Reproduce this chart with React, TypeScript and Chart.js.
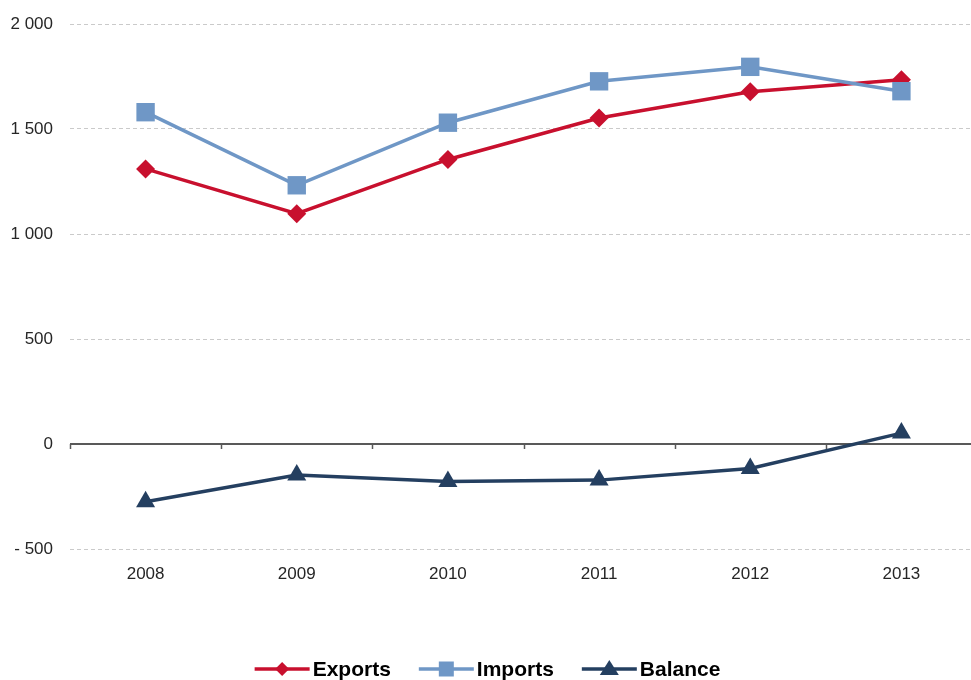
import React, { useEffect, useRef } from "react";
import { Chart, registerables } from "chart.js";

Chart.register(...registerables);

const years = ["2008", "2009", "2010", "2011", "2012", "2013"];
const exportsValues = [1310, 1097, 1355, 1552, 1677, 1735];
const importsValues = [1580, 1232, 1530, 1727, 1796, 1680];
const balanceValues = [-275, -148, -178, -172, -117, 52];
const yTickValues = [-500, 0, 500, 1000, 1500, 2000];
const yTickLabels = ["- 500", "0", "500", "1 000", "1 500", "2 000"];
const seriesNames = ["Exports", "Imports", "Balance"];

const RED = "#C8102E";
const BLUE = "#6F97C6";
const NAVY = "#243F60";
const TICK_FONT = "'Liberation Sans Narrow', 'Arial Narrow', 'Liberation Sans', Arial, sans-serif";
const LEGEND_FONT = "'Liberation Sans', Arial, sans-serif";

const zeroAxisPlugin = {
  id: "zeroAxis",
  beforeDatasetsDraw(chart: any) {
    const { ctx, chartArea, scales } = chart;
    const y = scales.y.getPixelForValue(0);
    const xs = scales.x;
    ctx.save();
    ctx.strokeStyle = "#595959";
    ctx.lineWidth = 2;
    ctx.beginPath();
    ctx.moveTo(chartArea.left, y);
    ctx.lineTo(chartArea.right, y);
    ctx.stroke();
    ctx.lineWidth = 1.5;
    const n = years.length;
    for (let i = 0; i <= n; i++) {
      let bx: number;
      if (i === 0) bx = chartArea.left;
      else if (i === n) bx = chartArea.right;
      else bx = (xs.getPixelForValue(i - 1) + xs.getPixelForValue(i)) / 2;
      ctx.beginPath();
      ctx.moveTo(Math.round(bx) + 0.5, y);
      ctx.lineTo(Math.round(bx) + 0.5, y + 5);
      ctx.stroke();
    }
    ctx.restore();
  },
};

function drawMarker(ctx: CanvasRenderingContext2D, kind: string, x: number, y: number, r: number, color: string) {
  ctx.fillStyle = color;
  ctx.beginPath();
  if (kind === "diamond") {
    ctx.moveTo(x, y - r);
    ctx.lineTo(x + r, y);
    ctx.lineTo(x, y + r);
    ctx.lineTo(x - r, y);
  } else if (kind === "square") {
    ctx.rect(x - r, y - r, 2 * r, 2 * r);
  } else {
    const h = r * 1.6;
    ctx.moveTo(x, y - h * 0.6);
    ctx.lineTo(x + r, y + h * 0.4);
    ctx.lineTo(x - r, y + h * 0.4);
  }
  ctx.closePath();
  ctx.fill();
}

const legendPlugin = {
  id: "customLegend",
  afterDraw(chart: any) {
    const { ctx } = chart;
    const items = [
      { name: seriesNames[0], color: RED, kind: "diamond", r: 7 },
      { name: seriesNames[1], color: BLUE, kind: "square", r: 7.5 },
      { name: seriesNames[2], color: NAVY, kind: "triangle", r: 9.5 },
    ];
    const lineLen = 55;
    const gap = 3;
    const spacing = 28;
    ctx.save();
    ctx.font = "bold 21px " + LEGEND_FONT;
    const widths = items.map((it) => ctx.measureText(it.name).width);
    let total = 0;
    items.forEach((it, i) => {
      total += lineLen + gap + widths[i];
      if (i < items.length - 1) total += spacing;
    });
    const cy = 669;
    let x = 487.5 - total / 2;
    items.forEach((it, i) => {
      ctx.strokeStyle = it.color;
      ctx.lineWidth = 3.5;
      ctx.beginPath();
      ctx.moveTo(x, cy);
      ctx.lineTo(x + lineLen, cy);
      ctx.stroke();
      drawMarker(ctx, it.kind, x + lineLen / 2, cy, it.r, it.color);
      ctx.fillStyle = "#000";
      ctx.textBaseline = "middle";
      ctx.textAlign = "left";
      ctx.fillText(it.name, x + lineLen + gap, cy + 1);
      x += lineLen + gap + widths[i] + spacing;
    });
    ctx.restore();
  },
};

export default function App() {
  const canvasRef = useRef<HTMLCanvasElement | null>(null);

  useEffect(() => {
    if (!canvasRef.current) return;
    const chart = new Chart(canvasRef.current, {
      type: "line",
      data: {
        labels: years,
        datasets: [
          {
            label: seriesNames[0],
            data: exportsValues,
            borderColor: RED,
            backgroundColor: RED,
            borderWidth: 3.5,
            pointStyle: "rectRot",
            pointRadius: 9.5,
            pointBorderWidth: 0,
            pointBackgroundColor: RED,
            tension: 0,
            order: 3,
          },
          {
            label: seriesNames[1],
            data: importsValues,
            borderColor: BLUE,
            backgroundColor: BLUE,
            borderWidth: 3.5,
            pointStyle: "rect",
            pointRadius: 13,
            pointBorderWidth: 0,
            pointBackgroundColor: BLUE,
            tension: 0,
            order: 2,
          },
          {
            label: seriesNames[2],
            data: balanceValues,
            borderColor: NAVY,
            backgroundColor: NAVY,
            borderWidth: 3.5,
            pointStyle: "triangle",
            pointRadius: 11,
            pointBorderWidth: 0,
            pointBackgroundColor: NAVY,
            tension: 0,
            order: 1,
          },
        ],
      },
      options: {
        responsive: false,
        animation: false,
        devicePixelRatio: 1,
        layout: { padding: { top: 24, right: 11, bottom: 0, left: 0 } },
        plugins: {
          legend: { display: false },
          tooltip: { enabled: false },
        },
        scales: {
          x: {
            type: "category",
            offset: true,
            grid: { display: false, drawTicks: false },
            border: { display: false },
            ticks: {
              color: "#262626",
              font: { family: TICK_FONT, size: 17 },
              padding: 15,
              maxRotation: 0,
              autoSkip: false,
            },
            afterFit: (scale: any) => {
              scale.height = 131;
              scale.paddingLeft = 0;
              scale.paddingRight = 0;
            },
          },
          y: {
            min: -500,
            max: 2000,
            afterBuildTicks: (scale: any) => {
              scale.ticks = yTickValues.map((v) => ({ value: v }));
            },
            grid: {
              color: (c: any) => (c.tick && c.tick.value === 0 ? "rgba(0,0,0,0)" : "#CACACA"),
              lineWidth: 1,
              drawTicks: false,
            },
            border: { display: false, dash: [4, 3] },
            ticks: {
              color: "#262626",
              font: { family: TICK_FONT, size: 17 },
              padding: 17,
              callback: (value: any) => {
                const idx = yTickValues.indexOf(Number(value));
                return idx >= 0 ? yTickLabels[idx] : "";
              },
            },
            afterFit: (scale: any) => {
              scale.width = 70;
              scale.paddingTop = 0;
              scale.paddingBottom = 0;
            },
          },
        },
      },
      plugins: [zeroAxisPlugin, legendPlugin],
    } as any);
    return () => chart.destroy();
  }, []);

  return (
    <div
      style={{
        position: "fixed",
        left: 0,
        top: 0,
        width: 971,
        height: 680,
        overflow: "hidden",
        background: "#fff",
      }}
    >
      <canvas ref={canvasRef} width={990} height={680} style={{ display: "block", width: 990, height: 680 }} />
    </div>
  );
}
